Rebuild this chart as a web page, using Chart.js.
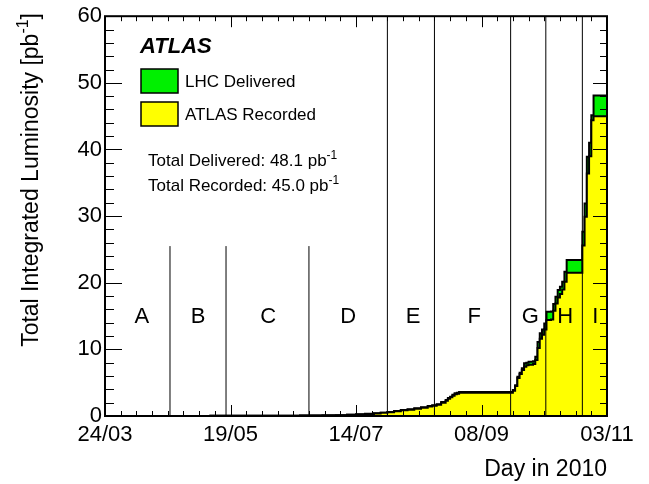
<!DOCTYPE html>
<html>
<head>
<meta charset="utf-8">
<script src="https://cdn.jsdelivr.net/npm/chart.js@4.4.1/dist/chart.umd.min.js"></script>
<style>
  html, body { margin: 0; padding: 0; background: #fff; }
  #wrap { width: 649px; height: 484px; }
</style>
</head>
<body>
<div id="wrap"><canvas id="lumiChart" width="649" height="484"></canvas></div>
<script>
// day of year in 2010 (83 = 24/03, 307 = 03/11) and cumulative luminosity [pb^-1]
var days = [83, 89, 100, 115, 130, 145, 160, 170, 180, 186, 191, 195, 199, 203, 206, 209, 212, 215, 218, 221,
  224, 227, 229, 231, 233, 235, 236, 237, 238, 239, 240, 241, 242,
  265, 266, 267, 268, 269, 270, 271, 272, 273, 274, 275, 276, 277, 278, 279, 280, 281, 282, 283, 284,
  285, 286, 287, 288, 289, 290, 291, 292, 293, 294, 295, 296, 297, 298, 299, 300, 301, 302, 303, 304,
  305, 306, 307];

var delivered = [0, 0, 0.001, 0.005, 0.01, 0.02, 0.03, 0.05, 0.08, 0.1, 0.13, 0.18, 0.25, 0.32, 0.4, 0.5, 0.6, 0.75, 0.9, 1.0,
  1.15, 1.3, 1.5, 1.6, 1.75, 2.1, 2.4, 2.7, 2.9, 3.2, 3.4, 3.5, 3.6,
  3.6, 3.9, 4.6, 5.9, 6.5, 7.15, 7.9, 8.0, 8.15, 8.15, 8.2, 8.9, 11.1, 12.4, 13.0, 13.9, 15.65, 15.65, 15.7, 16.8,
  17.9, 18.9, 19.4, 20.15, 21.65, 23.4, 23.4, 23.4, 23.4, 23.4, 23.4, 23.4, 27.65, 31.9, 38.9, 41.0, 45.15, 48.1, 48.1, 48.1,
  48.1, 48.1, 48.1];

var recorded = [0, 0, 0.001, 0.005, 0.01, 0.02, 0.03, 0.05, 0.07, 0.09, 0.12, 0.17, 0.23, 0.3, 0.38, 0.47, 0.57, 0.71, 0.86, 0.95,
  1.1, 1.24, 1.43, 1.53, 1.67, 2.0, 2.3, 2.6, 2.8, 3.05, 3.25, 3.35, 3.5,
  3.5, 3.8, 4.5, 5.7, 6.3, 6.9, 7.4, 7.6, 7.7, 7.7, 7.8, 8.4, 10.2, 11.6, 12.2, 13.0, 14.4, 14.4, 14.5, 15.8,
  16.9, 17.8, 18.3, 19.0, 20.15, 21.5, 21.5, 21.5, 21.5, 21.5, 21.5, 21.5, 25.6, 29.9, 36.4, 39.0, 44.4, 45.0, 45.0, 45.0,
  45.0, 45.0, 45.0];

// data-taking periods
var periodNames = ['A', 'B', 'C', 'D', 'E', 'F', 'G', 'H', 'I'];
var periodLabelDays = [99.4, 124.5, 155.8, 191.5, 220.5, 247.8, 272.8, 288.4, 301.8];
var periodBoundDays = [112, 137, 174, 209, 230, 264, 279.7, 296];
var periodBoundTops = [25.5, 25.5, 25.5, 60, 60, 60, 60, 60];
var periodLabelLevel = 15.1;

var totalDelivered = '48.1';
var totalRecorded = '45.0';

var firstDay = 83;
var lastDay = 307;

var fontName = '"Liberation Sans", Arial, Helvetica, sans-serif';

function pad2(n) {
  return (n < 10 ? '0' : '') + n;
}

function dayLabel(doy) {
  var d = new Date(2010, 0, doy);
  return pad2(d.getDate()) + '/' + pad2(d.getMonth() + 1);
}

// text with a superscript piece, drawn left to right from x
function drawSupText(ctx, x, y, parts, size) {
  parts.forEach(function (p) {
    var s = p.sup ? Math.round(size * 0.68) : size;
    ctx.font = s + 'px ' + fontName;
    ctx.fillText(p.t, x, p.sup ? y - size * 0.42 : y);
    x += ctx.measureText(p.t).width;
  });
  return x;
}

function supWidth(ctx, parts, size) {
  var w = 0;
  parts.forEach(function (p) {
    var s = p.sup ? Math.round(size * 0.68) : size;
    ctx.font = s + 'px ' + fontName;
    w += ctx.measureText(p.t).width;
  });
  return w;
}

var atlasDecor = {
  id: 'atlasDecor',
  afterDatasetsDraw: function (chart) {
    var ctx = chart.ctx;
    var xs = chart.scales.x;
    var ys = chart.scales.y;
    var area = chart.chartArea;

    ctx.save();

    // period separators
    ctx.strokeStyle = '#000';
    ctx.lineWidth = 1;
    for (var i = 0; i < periodBoundDays.length; i++) {
      var px = xs.getPixelForValue(periodBoundDays[i]);
      ctx.beginPath();
      ctx.moveTo(px, ys.getPixelForValue(0));
      ctx.lineTo(px, ys.getPixelForValue(periodBoundTops[i]));
      ctx.stroke();
    }

    // period names
    ctx.fillStyle = '#000';
    ctx.font = '22px ' + fontName;
    ctx.textAlign = 'center';
    ctx.textBaseline = 'alphabetic';
    for (var j = 0; j < periodNames.length; j++) {
      ctx.fillText(periodNames[j], xs.getPixelForValue(periodLabelDays[j]), ys.getPixelForValue(periodLabelLevel) + 8);
    }

    // inward ticks on all four sides
    ctx.lineWidth = 1;
    xs.ticks.forEach(function (t) {
      var px = Math.round(xs.getPixelForValue(t.value)) + 0.5;
      var major = Math.round(t.value - firstDay) % 56 === 0;
      ctx.beginPath();
      ctx.moveTo(px, area.bottom);
      ctx.lineTo(px, area.bottom - (major ? 11 : 5));
      ctx.moveTo(px, area.top);
      ctx.lineTo(px, area.top + (major ? 11 : 5));
      ctx.stroke();
    });
    ys.ticks.forEach(function (t) {
      var py = Math.round(ys.getPixelForValue(t.value)) + 0.5;
      var major = Math.round(t.value) % 10 === 0;
      ctx.beginPath();
      ctx.moveTo(area.left, py);
      ctx.lineTo(area.left + (major ? 17 : 9), py);
      ctx.moveTo(area.right, py);
      ctx.lineTo(area.right - (major ? 14 : 7), py);
      ctx.stroke();
    });

    // frame
    ctx.lineWidth = 2;
    ctx.strokeRect(area.left, area.top, area.right - area.left, area.bottom - area.top);

    // ATLAS label and legend
    ctx.textAlign = 'left';
    ctx.font = 'italic bold 22px ' + fontName;
    ctx.fillText('ATLAS', 140, 53);

    ctx.lineWidth = 1.5;
    ctx.fillStyle = '#00f000';
    ctx.fillRect(141, 69, 37, 24);
    ctx.strokeRect(141, 69, 37, 24);
    ctx.fillStyle = '#ffff00';
    ctx.fillRect(141, 102, 37, 24);
    ctx.strokeRect(141, 102, 37, 24);

    ctx.fillStyle = '#000';
    ctx.font = '17px ' + fontName;
    ctx.fillText('LHC Delivered', 185, 87);
    ctx.fillText('ATLAS Recorded', 185, 120);

    drawSupText(ctx, 148, 166, [{ t: 'Total Delivered: ' + totalDelivered + ' pb' }, { t: '-1', sup: true }], 17);
    drawSupText(ctx, 148, 191, [{ t: 'Total Recorded: ' + totalRecorded + ' pb' }, { t: '-1', sup: true }], 17);

    // axis titles
    ctx.font = '23px ' + fontName;
    ctx.textAlign = 'right';
    ctx.fillText('Day in 2010', area.right, 476);

    ctx.textAlign = 'left';
    var titleParts = [{ t: 'Total Integrated Luminosity [pb' }, { t: '-1', sup: true }, { t: ']' }];
    var w = supWidth(ctx, titleParts, 23);
    ctx.translate(38, 13);
    ctx.rotate(-Math.PI / 2);
    drawSupText(ctx, -w, 0, titleParts, 23);

    ctx.restore();
  }
};

var lumiChart = new Chart(document.getElementById('lumiChart'), {
  type: 'line',
  data: {
    datasets: [
      {
        label: 'ATLAS Recorded',
        data: days.map(function (d, i) { return { x: d, y: recorded[i] }; }),
        stepped: 'after',
        fill: 'origin',
        backgroundColor: '#ffff00',
        borderColor: '#000',
        borderWidth: 2,
        pointRadius: 0,
        order: 1
      },
      {
        label: 'LHC Delivered',
        data: days.map(function (d, i) { return { x: d, y: delivered[i] }; }),
        stepped: 'after',
        fill: 'origin',
        backgroundColor: '#00f000',
        borderColor: '#000',
        borderWidth: 2,
        pointRadius: 0,
        order: 2
      }
    ]
  },
  options: {
    responsive: false,
    devicePixelRatio: 1,
    animation: false,
    layout: {
      padding: { top: 16, right: 42, left: 0, bottom: 0 }
    },
    plugins: {
      legend: { display: false },
      tooltip: { enabled: false }
    },
    scales: {
      x: {
        type: 'linear',
        min: firstDay,
        max: lastDay,
        grid: { display: false, drawTicks: false },
        border: { display: false },
        ticks: {
          stepSize: 7,
          autoSkip: false,
          maxRotation: 0,
          padding: 6,
          color: '#000',
          font: { family: fontName, size: 22 },
          callback: function (value) {
            return Math.round(value - firstDay) % 56 === 0 ? dayLabel(Math.round(value)) : '';
          }
        },
        afterFit: function (scale) {
          scale.height = 68;
        }
      },
      y: {
        min: 0,
        max: 60,
        grid: { display: false, drawTicks: false },
        border: { display: false },
        ticks: {
          stepSize: 2,
          autoSkip: false,
          padding: 3,
          color: '#000',
          font: { family: fontName, size: 22 },
          callback: function (value) {
            return Math.round(value) % 10 === 0 ? value : '';
          }
        },
        afterFit: function (scale) {
          scale.width = 105;
        }
      }
    }
  },
  plugins: [atlasDecor]
});
</script>
</body>
</html>
